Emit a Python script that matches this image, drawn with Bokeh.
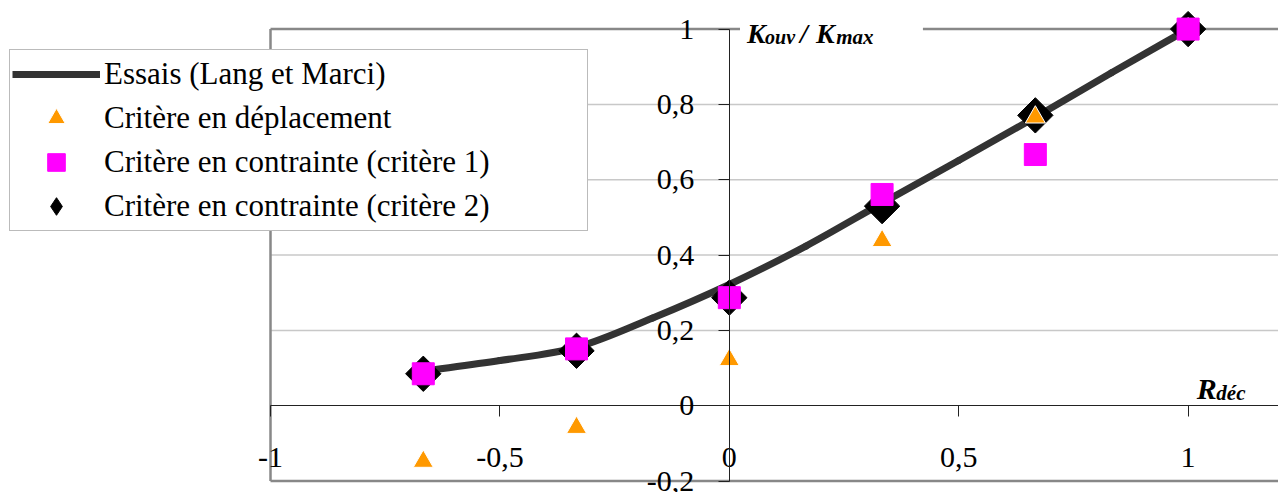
import numpy as np
from bokeh.plotting import figure
from bokeh.models import (Range1d, LinearAxis, FixedTicker, Legend, LegendItem, Label)
from bokeh.embed import file_html
from bokeh.resources import INLINE

# ---------------- data ----------------
r_dec = [-0.667, -0.333, 0.0, 0.333, 0.667, 1.0]
crit_depl = [-0.148, -0.058, 0.122, 0.438, 0.766, 1.0]
crit_c1 = [0.085, 0.151, 0.287, 0.561, 0.667, 1.0]
crit_c2 = [0.085, 0.146, 0.287, 0.530, 0.771, 1.0]

essais_x = [-0.667, -0.5, -0.333, -0.167, 0.0, 0.167, 0.333, 0.5, 0.667, 0.833, 1.0]
essais_y = [0.092, 0.120, 0.155, 0.233, 0.322, 0.424, 0.538, 0.651, 0.766, 0.884, 1.0]

x_ticks = [-1, -0.5, 0, 0.5, 1]
x_tick_labels = ["-1", "-0,5", "0", "0,5", "1"]
y_ticks = [-0.2, 0, 0.2, 0.4, 0.6, 0.8, 1]
y_tick_labels = ["-0,2", "0", "0,2", "0,4", "0,6", "0,8", "1"]
grid_y = [0.2, 0.4, 0.6, 0.8]

# ---------------- figure ----------------
W, H = 1278, 492
X0, X1 = -1.5885, 1.1970
Y0, Y1 = -0.2302, 1.0759
FONT = "Liberation Serif"

p = figure(width=W, height=H, x_range=Range1d(X0, X1), y_range=Range1d(Y0, Y1),
           x_axis_location=None, y_axis_location=None, min_border=0,
           toolbar_location=None, output_backend="svg", outline_line_color=None)
p.xgrid.visible = False
p.ygrid.visible = False
p.background_fill_color = "white"

# grid lines (only inside the plot area x >= -1)
p.segment(x0=[-1] * len(grid_y), y0=grid_y, x1=[X1] * len(grid_y), y1=grid_y,
          line_color="#c8c8c8", line_width=1.5)

# plot area border (gap in the top edge behind the y-axis title)
p.segment(x0=[-1, -1, -1, 0.4220], y0=[-0.2, -0.2, 1, 1],
          x1=[-1, X1, 0.0233, X1], y1=[1, -0.2, 1, 1],
          line_color="#888888", line_width=2.5)

# axes crossing at the origin
xaxis = LinearAxis(fixed_location=0, ticker=FixedTicker(ticks=x_ticks),
                   major_label_overrides=dict(zip(x_ticks, x_tick_labels)),
                   bounds=(-1, X1))
yaxis = LinearAxis(fixed_location=0, ticker=FixedTicker(ticks=y_ticks),
                   major_label_overrides=dict(zip(y_ticks, y_tick_labels)),
                   bounds=(-0.2, 1))
for ax in (xaxis, yaxis):
    ax.axis_line_color = "#222222"
    ax.axis_line_width = 1
    ax.major_tick_line_color = "#222222"
    ax.major_tick_out = 11
    ax.major_tick_in = 0
    ax.minor_tick_out = 0
    ax.minor_tick_in = 0
    ax.major_label_text_font = FONT
    ax.major_label_text_font_size = "30px"
    ax.major_label_text_color = "black"
xaxis.major_label_standoff = 31
yaxis.major_label_standoff = 24
p.add_layout(xaxis, "below")
p.add_layout(yaxis, "left")

# ---------------- series ----------------
# smoothed test curve: cubic Bezier segments (Catmull-Rom) through the read points
ex = np.array(essais_x)
ey = np.array(essais_y)
exp_ = np.concatenate([[2 * ex[0] - ex[1]], ex, [2 * ex[-1] - ex[-2]]])
eyp = np.concatenate([[2 * ey[0] - ey[1]], ey, [2 * ey[-1] - ey[-2]]])
cx0 = ex[:-1] + (exp_[2:-1] - exp_[:-3]) / 6.0
cy0 = ey[:-1] + (eyp[2:-1] - eyp[:-3]) / 6.0
cx1 = ex[1:] - (exp_[3:] - exp_[1:-2]) / 6.0
cy1 = ey[1:] - (eyp[3:] - eyp[1:-2]) / 6.0
p.bezier(x0=ex[:-1], y0=ey[:-1], x1=ex[1:], y1=ey[1:],
         cx0=cx0, cy0=cy0, cx1=cx1, cy1=cy1,
         line_color="#333333", line_width=7, line_cap="round")
r_line = p.line(essais_x, essais_y, line_color="#333333", line_width=7, visible=False)

r_c2 = p.scatter(r_dec, crit_c2, marker="square", angle=np.pi / 4, size=25,
                 fill_color="black", line_color="black")
r_c2_leg = p.scatter(r_dec, crit_c2, marker="diamond", size=25,
                     fill_color="black", line_color="black", visible=False)
r_depl = p.scatter(r_dec, crit_depl, marker="triangle", size=20,
                   fill_color="#ff9900", line_color="white", line_width=1)
r_c1 = p.scatter(r_dec, crit_c1, marker="square", size=22,
                 fill_color="#ff00ff", line_color="#ff00ff")

legend = Legend(items=[
    LegendItem(label="Essais (Lang et Marci)", renderers=[r_line]),
    LegendItem(label="Critère en déplacement", renderers=[r_depl]),
    LegendItem(label="Critère en contrainte (critère 1)", renderers=[r_c1]),
    LegendItem(label="Critère en contrainte (critère 2)", renderers=[r_c2_leg]),
], location=(9, 261))
legend.padding = 2
legend.margin = 0
legend.spacing = 0
legend.glyph_width = 88
legend.glyph_height = 44
legend.label_height = 44
legend.label_width = 481
legend.label_standoff = 4
legend.label_text_font = FONT
legend.label_text_font_size = "31px"
legend.label_text_color = "black"
legend.border_line_color = "#777777"
legend.border_line_width = 1.5
legend.background_fill_color = "white"
legend.background_fill_alpha = 1
p.add_layout(legend, "center")

# ---------------- axis titles ----------------
def lab(x, y, text, size):
    p.add_layout(Label(x=x, y=y, text=text, text_font=FONT, text_font_size=size,
                       text_font_style="bold italic", text_color="black",
                       text_baseline="alphabetic", text_align="left"))

lab(0.0386, 0.988, "K", "28px")
lab(0.078, 0.978, "ouv", "20px")
lab(0.154, 0.988, "/", "28px")
lab(0.189, 0.988, "K", "28px")
lab(0.233, 0.978, "max", "21px")
lab(1.019, 0.046, "R", "30px")
lab(1.0615, 0.0327, "déc", "21px")

open("out.html", "w").write(file_html(p, INLINE))
